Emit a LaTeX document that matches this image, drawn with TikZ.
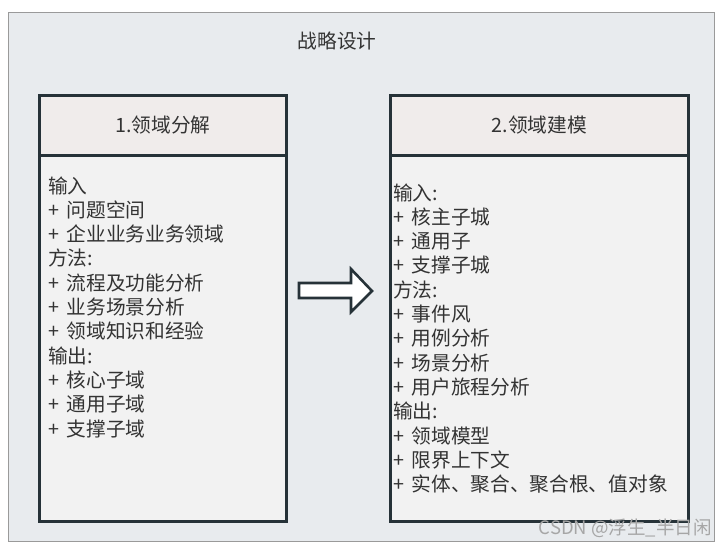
\documentclass[tikz,border=0pt]{standalone}
\usepackage{fontspec}
\setmainfont{Noto Sans CJK SC}
\newcommand\plusitem{+\hspace{7.5pt}}
\begin{document}
\begin{tikzpicture}[x=1pt,y=-1pt,
  txt/.style={inner sep=0pt,anchor=base west,text=txtc,font=\fontsize{19.7}{22}\selectfont},
  hdr/.style={draw=boxc,line width=2.6pt,fill=hdrc,inner sep=0pt,text=txtc,font=\fontsize{19.7}{22}\selectfont},
  bodybox/.style={draw=boxc,line width=2.6pt,fill=bodyc,inner sep=0pt},
  bigarrow/.style={draw=boxc,line width=2.6pt,fill=white,line join=miter}]
\definecolor{txtc}{HTML}{333333}
\definecolor{boxc}{HTML}{263238}
\definecolor{hdrc}{HTML}{F0ECEB}
\definecolor{bodyc}{HTML}{F2F2F2}
\definecolor{outc}{HTML}{E8EBEE}
\definecolor{outb}{HTML}{9A9A9A}
\useasboundingbox (0,0) rectangle (723,550);
\fill[white] (0,0) rectangle (723,550);
\node[draw=outb,line width=1.2pt,fill=outc,minimum width=706pt,minimum height=529pt,inner sep=0pt,anchor=north west] (outer) at (8,12) {};
\node[inner sep=0pt,text=txtc,font=\fontsize{19.7}{22}\selectfont] (title) at (337,41) {战略设计};
% left
\node[bodybox,minimum width=247pt,minimum height=366pt,anchor=north west] (lbody) at (38,154) {};
\node[hdr,minimum width=247pt,minimum height=60pt,anchor=north west] (lhead) at (38,94) {1.领域分解};
% right
\node[bodybox,minimum width=298pt,minimum height=366pt,anchor=north west] (rbody) at (389,154) {};
\node[hdr,minimum width=298pt,minimum height=60pt,anchor=north west] (rhead) at (389,94) {2.领域建模};
% left text
\foreach \t [count=\i] in {输入,\plusitem 问题空间,\plusitem 企业业务业务领域,方法:,\plusitem 流程及功能分析,\plusitem 业务场景分析,\plusitem 领域知识和经验,输出:,\plusitem 核心子域,\plusitem 通用子域,\plusitem 支撑子域}
  \node[txt] (L\i) at (48,{193+(\i-1)*24.3}) {\t};
% right text
\foreach \t [count=\i] in {输入:,\plusitem 核主子城,\plusitem 通用子,\plusitem 支撑子城,方法:,\plusitem 事件风,\plusitem 用例分析,\plusitem 场景分析,\plusitem 用户旅程分析,输出:,\plusitem 领域模型,\plusitem 限界上下文,\plusitem 实体、聚合、聚合根、值对象}
  \node[txt] (R\i) at (393,{200+(\i-1)*24.3}) {\t};
% arrow
\coordinate (a1) at (299,283);
\draw[bigarrow] (a1) -- (351,283) -- (351,269) -- (372,291) -- (351,312) -- (351,298) -- (299,298) -- cycle;
% watermark
\node[inner sep=0pt,anchor=base east,text=black!35,font=\fontsize{18.5}{22}\selectfont] (wm) at (712,534) {CSDN @浮生\_半日闲};
\end{tikzpicture}
\end{document}
